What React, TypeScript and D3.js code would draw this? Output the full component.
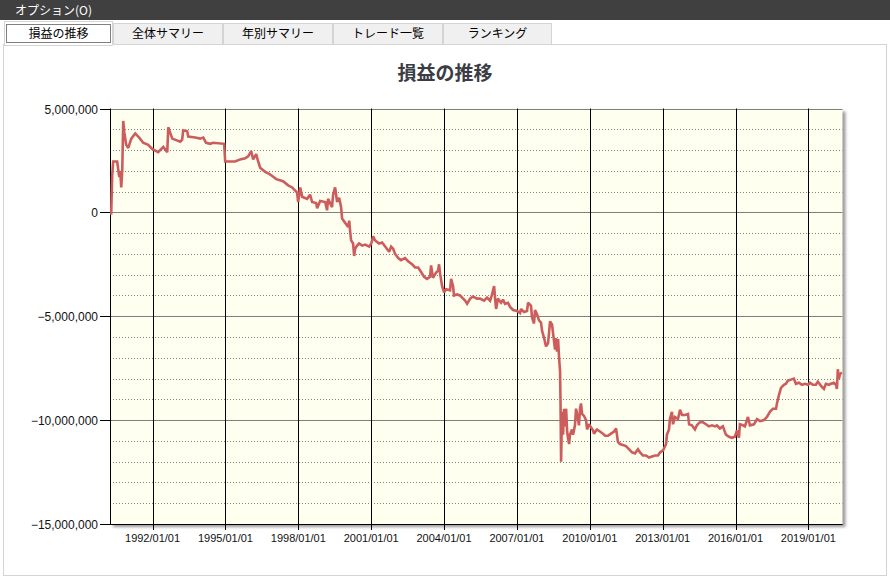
import React from "react";
import * as d3 from "d3";

const dates: string[] = [
  "1990-04-04","1990-04-19","1990-05-04","1990-05-19","1990-07-18","1990-08-18","1990-09-02","1990-09-17","1990-10-02","1990-10-17",
  "1990-11-02","1990-12-01","1991-01-01","1991-02-15","1991-04-15","1991-06-14","1991-08-13","1991-10-27","1991-12-26","1992-03-25",
  "1992-06-10","1992-08-09","1992-08-24","1992-10-23","1993-02-21","1993-03-21","1993-04-06","1993-06-05","1993-06-20","1993-10-04",
  "1993-12-18","1994-02-02","1994-03-16","1994-05-16","1994-06-29","1994-12-13","1994-12-28","1995-03-12","1995-05-26","1995-08-10",
  "1995-10-24","1995-12-09","1996-01-23","1996-02-22","1996-04-07","1996-05-07","1996-06-06","1996-08-20","1996-10-20","1996-12-04",
  "1997-02-03","1997-05-17","1997-08-01","1997-09-30","1997-12-14","1997-12-29","1998-01-29","1998-02-27","1998-05-13","1998-06-27",
  "1998-07-27","1998-09-26","1998-10-11","1998-11-25","1999-02-09","1999-03-09","1999-03-24","1999-05-23","1999-06-08","1999-07-08",
  "1999-08-07","1999-09-07","1999-10-06","1999-10-21","1999-12-05","2000-01-20","2000-02-05","2000-02-20","2000-03-05","2000-04-04",
  "2000-04-19","2000-05-04","2000-06-03","2000-07-03","2000-08-18","2000-10-02","2000-12-01","2001-01-02","2001-01-31","2001-02-28",
  "2001-04-29","2001-06-14","2001-08-13","2001-09-28","2001-10-27","2001-11-27","2001-12-26","2002-02-11","2002-03-25","2002-05-25",
  "2002-07-09","2002-09-08","2002-10-23","2002-12-07","2003-01-07","2003-03-06","2003-04-20","2003-06-05","2003-06-20","2003-07-19",
  "2003-09-04","2003-10-04","2003-10-18","2003-11-03","2003-12-03","2004-01-02","2004-02-02","2004-04-01","2004-04-16","2004-05-16",
  "2004-05-30","2004-07-15","2004-08-29","2004-09-29","2004-11-13","2004-12-13","2005-01-27","2005-03-12","2005-05-11","2005-06-25",
  "2005-08-25","2005-10-09","2005-11-24","2005-12-23","2006-01-23","2006-02-08","2006-02-22","2006-03-22","2006-05-07","2006-06-06",
  "2006-07-06","2006-08-20","2006-09-20","2006-11-05","2007-01-04","2007-02-18","2007-03-03","2007-04-18","2007-06-02","2007-06-17",
  "2007-08-01","2007-08-16","2007-09-15","2007-09-30","2007-10-30","2007-11-29","2007-12-29","2008-01-14","2008-02-14","2008-03-13",
  "2008-04-13","2008-04-28","2008-05-13","2008-06-12","2008-06-27","2008-07-12","2008-07-27","2008-08-11","2008-08-26","2008-09-11",
  "2008-09-26","2008-10-11","2008-10-18","2008-10-26","2008-11-10","2008-11-25","2008-12-10","2008-12-25","2009-01-10","2009-01-25",
  "2009-02-09","2009-02-24","2009-03-09","2009-04-09","2009-04-24","2009-05-23","2009-06-08","2009-07-08","2009-07-22","2009-08-07",
  "2009-08-22","2009-09-07","2009-10-06","2009-11-06","2009-11-21","2009-12-20","2010-01-20","2010-02-20","2010-03-05","2010-04-19",
  "2010-06-03","2010-07-18","2010-08-18","2010-10-02","2010-11-16","2011-01-01","2011-01-31","2011-02-28","2011-03-30","2011-05-14",
  "2011-06-28","2011-08-13","2011-09-28","2011-11-12","2011-12-26","2012-01-26","2012-03-10","2012-04-25","2012-06-10","2012-07-24",
  "2012-09-08","2012-10-23","2012-11-22","2013-01-07","2013-02-21","2013-03-06","2013-04-06","2013-04-20","2013-05-20","2013-06-05",
  "2013-07-05","2013-08-19","2013-09-19","2013-10-18","2013-12-03","2014-01-17","2014-02-02","2014-03-16","2014-05-01","2014-05-30",
  "2014-07-15","2014-08-29","2014-10-14","2014-11-28","2015-01-13","2015-02-27","2015-03-27","2015-05-11","2015-06-25","2015-08-10",
  "2015-09-24","2015-11-09","2015-12-23","2016-01-23","2016-02-22","2016-03-07","2016-04-22","2016-05-21","2016-07-06","2016-08-05",
  "2016-10-05","2016-11-19","2017-01-04","2017-03-03","2017-04-18","2017-06-02","2017-07-16","2017-09-01","2017-09-15","2017-10-15",
  "2017-11-15","2017-12-29","2018-01-29","2018-02-27","2018-04-13","2018-05-28","2018-06-27","2018-08-11","2018-09-26","2018-11-10",
  "2018-12-25","2019-01-25","2019-03-09","2019-04-24","2019-05-23","2019-07-22","2019-08-22","2019-09-21","2019-11-06","2019-12-05",
  "2020-01-20","2020-02-20","2020-03-05","2020-03-19","2020-04-04","2020-04-19","2020-05-19",
];

const pnl: number[] = [
  200000,-100000,1800000,2450000,2450000,1700000,2000000,1200000,2000000,4400000,
  3850000,3250000,3100000,3550000,3800000,3600000,3350000,3250000,3050000,2900000,
  3150000,2900000,4100000,3550000,3400000,3500000,3950000,3900000,3650000,3600000,
  3550000,3600000,3350000,3300000,3350000,3300000,2450000,2450000,2450000,2550000,
  2600000,2700000,2950000,2550000,2800000,2450000,2150000,1950000,1850000,1750000,
  1600000,1500000,1300000,1200000,950000,500000,1200000,750000,650000,850000,
  500000,450000,200000,550000,500000,100000,650000,250000,850000,1200000,
  500000,700000,250000,-300000,-500000,-700000,-400000,-950000,-1350000,-1500000,
  -2100000,-1750000,-1600000,-1500000,-1600000,-1550000,-1650000,-1500000,-1150000,-1350000,
  -1500000,-1450000,-1700000,-1900000,-1650000,-1750000,-2000000,-2200000,-2300000,-2200000,
  -2350000,-2500000,-2650000,-2650000,-2800000,-3100000,-3200000,-3100000,-2550000,-3150000,
  -2900000,-2800000,-2500000,-2950000,-3550000,-3850000,-3700000,-3750000,-3200000,-3550000,
  -4000000,-3950000,-4000000,-4100000,-4250000,-4400000,-4150000,-4050000,-4150000,-4150000,
  -4250000,-4100000,-4250000,-3950000,-3550000,-4200000,-4650000,-4150000,-4350000,-4200000,
  -4400000,-4350000,-4550000,-4700000,-4750000,-4850000,-4650000,-4800000,-4750000,-4350000,
  -4500000,-5050000,-5350000,-4700000,-4900000,-5200000,-5300000,-5700000,-6050000,-6450000,
  -6300000,-5800000,-5250000,-5400000,-5800000,-6200000,-6600000,-6050000,-6700000,-6100000,
  -7000000,-7650000,-9250000,-12000000,-9600000,-10700000,-9450000,-10300000,-9450000,-10550000,
  -10900000,-11150000,-10700000,-10450000,-10700000,-10250000,-9450000,-9950000,-10250000,-9450000,
  -9200000,-9700000,-9800000,-10000000,-10450000,-10200000,-10350000,-10500000,-10650000,-10450000,
  -10550000,-10650000,-10750000,-10750000,-10650000,-10550000,-10400000,-11050000,-11150000,-11200000,
  -11250000,-11400000,-11550000,-11600000,-11400000,-11550000,-11700000,-11700000,-11800000,-11750000,
  -11700000,-11700000,-11550000,-11450000,-11150000,-10700000,-10450000,-9950000,-9600000,-10200000,
  -9850000,-9950000,-9500000,-9750000,-9750000,-9700000,-10200000,-10250000,-10450000,-10250000,
  -10100000,-10100000,-10200000,-10300000,-10250000,-10300000,-10250000,-10400000,-10300000,-10700000,
  -10800000,-10850000,-10800000,-10500000,-10850000,-10200000,-10250000,-10300000,-9850000,-10250000,
  -10200000,-9950000,-10050000,-10000000,-9850000,-9600000,-9450000,-9450000,-9200000,-8800000,
  -8450000,-8300000,-8250000,-8100000,-8050000,-8000000,-8250000,-8200000,-8300000,-8250000,
  -8300000,-8200000,-8300000,-8300000,-8150000,-8400000,-8500000,-8250000,-8300000,-8250000,
  -8200000,-8300000,-8500000,-7550000,-8000000,-7800000,-7700000,
];

const xTickYears: number[] = [1992, 1995, 1998, 2001, 2004, 2007, 2010, 2013, 2016, 2019];
const xTickLabels: string[] = ["1992/01/01","1995/01/01","1998/01/01","2001/01/01","2004/01/01","2007/01/01","2010/01/01","2013/01/01","2016/01/01","2019/01/01"];
const yMajorTicks: number[] = [5000000, 0, -5000000, -10000000, -15000000];
const tabLabels: string[] = ["損益の推移", "全体サマリー", "年別サマリー", "トレード一覧", "ランキング"];
const chartTitle = "損益の推移";
const menuLabel = "オプション(O)";

const W = 890, H = 578;
const PL = 110, PR = 842.5, PT = 108.5, PB = 524;

export default function App() {
  const parse = d3.timeParse("%Y-%m-%d");
  const pts = dates.map((d, i) => ({ t: parse(d) as Date, v: pnl[i] }));
  const x = d3.scaleTime().domain([new Date(1990, 3, 1), new Date(2020, 4, 28)]).range([PL, PR]);
  const y = d3.scaleLinear().domain([-15000000, 5000000]).range([PB, PT]);
  const line = d3.line<{ t: Date; v: number }>().x(d => x(d.t)).y(d => y(d.v));
  const fmt = d3.format(",");
  const minor = d3.range(-14000000, 5000000, 1000000).filter(v => v % 5000000 !== 0);
  const uiFont = "'Noto Sans CJK JP', 'Noto Sans', sans-serif";
  const axFont = "'Liberation Sans', Arial, sans-serif";
  const tabX = [4, 113, 223, 333, 443, 552];

  return (
    <svg width={W} height={H} style={{ position: "absolute", left: 0, top: 0, background: "#fff" }}>
      <defs>
        <filter id="sh" x="-5%" y="-5%" width="115%" height="115%">
          <feGaussianBlur stdDeviation="1.8" />
        </filter>
        <clipPath id="clip">
          <rect x={PL} y={PT - 2} width={PR - PL} height={PB - PT + 2} />
        </clipPath>
      </defs>
      <rect x={0} y={0} width={W} height={20} fill="#404040" />
      <text x={15} y={14.5} fontSize={12} fill="#ffffff" fontFamily={uiFont}>{menuLabel}</text>
      <rect x={3.5} y={44.5} width={883} height={531} fill="#ffffff" stroke="#d4d4d4" />
      {tabLabels.map((lab, i) => {
        const x0 = tabX[i], x1 = tabX[i + 1];
        const sel = i === 0;
        return (
          <g key={lab}>
            <rect x={x0 + 0.5} y={sel ? 21.5 : 23.5} width={x1 - x0 - 1} height={sel ? 24 : 21}
              fill={sel ? "#ffffff" : "#f0f0f0"} stroke="#d4d4d4" />
            {sel && <rect x={x0 + 2.5} y={24.5} width={x1 - x0 - 5} height={18} fill="none" stroke="#000" strokeDasharray="1,1" />}
            <text x={(x0 + x1) / 2} y={38} textAnchor="middle" fontSize={12} fill="#000" fontFamily={uiFont}>{lab}</text>
          </g>
        );
      })}
      <line x1={tabX[0] + 1} x2={tabX[1] - 0.5} y1={44.5} y2={44.5} stroke="#ffffff" />
      <text x={445} y={80} textAnchor="middle" fontSize={19} fontWeight="bold" fill="#3c3c44" fontFamily={uiFont}>{chartTitle}</text>
      <rect x={PL + 3} y={PT + 3} width={PR - PL} height={PB - PT} fill="#9a9a9a" filter="url(#sh)" />
      <rect x={PL} y={PT} width={PR - PL} height={PB - PT} fill="#fffff0" />
      {minor.map(v => (
        <line key={"m" + v} x1={PL} x2={PR} y1={Math.round(y(v)) + 0.5} y2={Math.round(y(v)) + 0.5}
          stroke="#808080" strokeDasharray="1,2" />
      ))}
      {yMajorTicks.filter(v => v > -15000000).map(v => (
        <line key={"M" + v} x1={PL} x2={PR} y1={Math.round(y(v)) + 0.5} y2={Math.round(y(v)) + 0.5} stroke="#808080" />
      ))}
      {xTickYears.map(yr => {
        const xx = Math.round(x(new Date(yr, 0, 1))) + 0.5;
        return <line key={"v" + yr} x1={xx} x2={xx} y1={PT} y2={PB + 6} stroke="#000" />;
      })}
      {yMajorTicks.map(v => {
        const yy = Math.round(y(v)) + 0.5;
        return (
          <g key={"yt" + v}>
            <line x1={PL - 10} x2={PL} y1={yy} y2={yy} stroke="#000" />
            <text x={98} y={yy + 4} textAnchor="end" fontSize={12} fill="#111" fontFamily={axFont}>{fmt(v)}</text>
          </g>
        );
      })}
      <line x1={PL + 0.5} x2={PL + 0.5} y1={PT} y2={PB} stroke="#000" />
      <line x1={PL} x2={PR} y1={PB + 0.5} y2={PB + 0.5} stroke="#000" />
      {xTickYears.map((yr, i) => (
        <text key={"xl" + yr} x={x(new Date(yr, 0, 1))} y={542} textAnchor="middle" fontSize={11} fill="#111" fontFamily={axFont}>{xTickLabels[i]}</text>
      ))}
      <path d={line(pts) || ""} fill="none" stroke="#cd5c5c" strokeWidth={2.6} strokeLinejoin="miter" strokeMiterlimit={2} clipPath="url(#clip)" />
    </svg>
  );
}
